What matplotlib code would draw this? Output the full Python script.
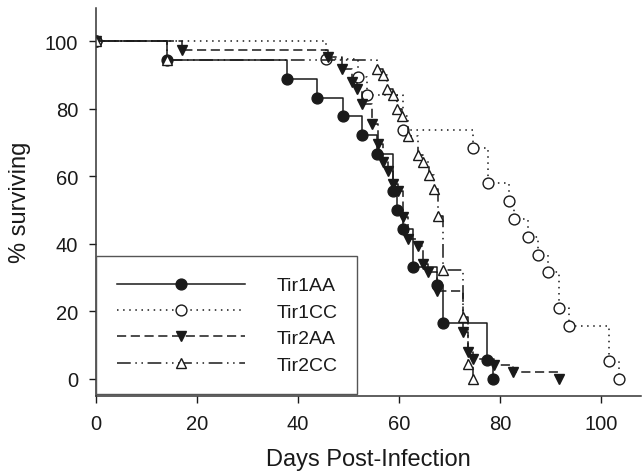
import matplotlib
matplotlib.use("Agg")
import matplotlib.pyplot as plt

plt.rcParams['font.family'] = ['Liberation Sans', 'DejaVu Sans']

# Kaplan-Meier curves (day, % surviving after the event)
t1aa_days = [0, 14, 37.8, 43.8, 48.8, 52.7, 55.7, 58.8, 59.6, 60.8, 62.8, 67.5, 68.7, 77.4, 78.7]
t1aa_surv = [100, 94.4, 88.9, 83.3, 77.8, 72.2, 66.7, 55.6, 50.0, 44.4, 33.3, 27.8, 16.7, 5.6, 0]

t1cc_days = [0, 45.6, 51.9, 53.6, 60.8, 74.6, 77.6, 81.7, 82.7, 85.5, 87.6, 89.6, 91.6, 93.6, 101.6, 103.5]
t1cc_surv = [100, 94.7, 89.5, 84.2, 73.7, 68.4, 57.9, 52.6, 47.4, 42.1, 36.8, 31.6, 21.1, 15.8, 5.3, 0]

t2aa_days = [0, 16.9, 45.9, 48.6, 50.6, 51.7, 52.7, 54.7, 55.8, 56.8, 57.8, 58.8, 59.8, 60.8,
             61.8, 63.7, 64.7, 65.7, 67.5, 72.7, 73.6, 74.6, 78.9, 82.6, 91.6]
t2aa_surv = [100, 97.3, 95.3, 91.9, 87.9, 85.9, 81.5, 75.6, 69.6, 64.2, 61.7, 57.8, 55.8, 47.9,
             41.5, 39.5, 34.1, 31.6, 26.2, 13.8, 7.9, 5.9, 4.0, 2.0, 0]

t2cc_days = [0, 14, 55.6, 56.8, 57.6, 58.8, 59.6, 60.6, 61.8, 63.7, 64.7, 65.9, 66.9, 67.7,
             68.7, 72.7, 73.6, 74.6]
t2cc_surv = [100, 94.4, 91.9, 89.9, 85.9, 84.0, 80.0, 78.0, 72.1, 66.2, 64.2, 60.5, 56.3, 48.4,
             32.3, 18.3, 4.3, 0]

labels = ['Tir1AA', 'Tir1CC', 'Tir2AA', 'Tir2CC']
x_ticks = [0, 20, 40, 60, 80, 100]
y_ticks = [0, 20, 40, 60, 80, 100]

ink = '#1a1a1a'

fig = plt.figure(figsize=(6.42, 4.77), dpi=100)
ax = fig.add_axes([0.150, 0.168, 0.849, 0.814])

series = [
    (t1aa_days, t1aa_surv, '-', 'o', ink),
    (t1cc_days, t1cc_surv, (0, (1, 3)), 'o', 'white'),
    (t2aa_days, t2aa_surv, (0, (6, 3)), 'v', ink),
    (t2cc_days, t2cc_surv, (0, (9, 3, 1, 3, 1, 3)), '^', 'white'),
]
for (d, s, ls, mk, fc), lab in zip(series, labels):
    ax.plot(d, s, drawstyle='steps-post', linestyle=ls, color=ink, linewidth=1.1,
            marker=mk, markersize=7.8, markerfacecolor=fc, markeredgecolor=ink,
            markeredgewidth=1.0, label=lab)

ax.set_xlim(0, 108)
ax.set_ylim(-5, 110)
ax.set_xticks(x_ticks)
ax.set_yticks(y_ticks)
ax.tick_params(direction='out', length=5, width=1, colors=ink, labelsize=14.5, pad=8)
for side in ['top', 'right']:
    ax.spines[side].set_visible(False)
for side in ['left', 'bottom']:
    ax.spines[side].set_color('#333333')
    ax.spines[side].set_linewidth(1.1)

ax.set_xlabel('Days Post-Infection', fontsize=17, color=ink, labelpad=11)
ax.set_ylabel('% surviving', fontsize=17, color=ink, labelpad=10)

leg = ax.legend(loc='lower left', bbox_to_anchor=(0.0, 0.005, 0.478, 0.36), mode='expand',
                borderaxespad=0, fontsize=14, handlelength=6.6, handletextpad=1.6,
                labelspacing=0.45, borderpad=1.05, fancybox=False, framealpha=1,
                edgecolor='#555555', numpoints=1)
leg.get_frame().set_linewidth(1.0)
for txt in leg.get_texts():
    txt.set_color(ink)

fig.savefig('out.png', dpi=100)
